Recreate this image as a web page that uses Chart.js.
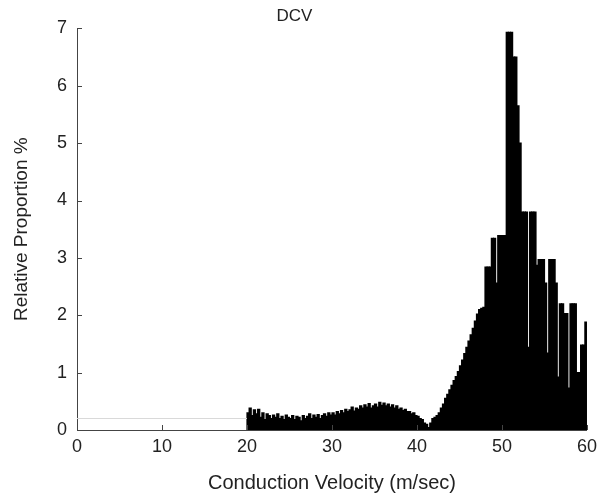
<!DOCTYPE html>
<html>
<head>
<meta charset="utf-8">
<script src="https://cdn.jsdelivr.net/npm/chart.js@4.4.0/dist/chart.umd.min.js"></script>
<style>
  html, body { margin: 0; padding: 0; background: #fff; }
  #wrap { width: 603px; height: 501px; }
</style>
</head>
<body>
<div id="wrap"><canvas id="chart" width="603" height="501"></canvas></div>
<script>
// --- histogram data (relative proportion %, 0.25 m/s bins from 20 m/s) ---
const binStart = 20;
const binWidth = 0.25;

// 20 - 42 m/s: low plateau
const lowPlateau = [
    0.30, 0.38, 0.25, 0.35,  0.28, 0.36, 0.22, 0.30,
    0.18, 0.28, 0.25, 0.20,  0.26, 0.22, 0.28, 0.20,
    0.24, 0.18, 0.26, 0.22,  0.20, 0.25, 0.18, 0.24,
    0.22, 0.16, 0.25, 0.20,  0.24, 0.28, 0.20, 0.26,
    0.22, 0.27, 0.20, 0.25,  0.28, 0.24, 0.30, 0.26,
    0.30, 0.26, 0.32, 0.28,  0.34, 0.30, 0.36, 0.32,
    0.35, 0.40, 0.33, 0.38,  0.36, 0.42, 0.38, 0.44,
    0.40, 0.46, 0.38, 0.42,  0.45, 0.40, 0.48, 0.43,
    0.47, 0.42, 0.45, 0.40,  0.44, 0.38, 0.42, 0.36,
    0.38, 0.34, 0.36, 0.32,  0.32, 0.28, 0.30, 0.25,
    0.24, 0.20, 0.18, 0.12,  0.10, 0.04, 0.12, 0.20
];

// 42 - 48 m/s: rising edge
const risingEdge = [
    0.22, 0.25, 0.30, 0.38,
    0.45, 0.55, 0.62, 0.70,  0.78, 0.86, 0.93, 1.02,
    1.12, 1.22, 1.33, 1.44,  1.55, 1.66, 1.77, 1.90,
    2.02, 2.10, 2.12, 2.14
];

// 48 - 60 m/s: main peak
const peakCluster = [
    2.84, 2.84, 2.84, 3.34,  3.34, 2.56, 3.39, 3.39,
    3.39, 3.39, 6.93, 6.93,  6.93, 6.50, 6.50, 5.65,
    5.00, 3.80, 3.80, 3.80,  1.44, 3.80, 3.80, 3.80,
    2.87, 2.97, 2.97, 2.97,  2.56, 1.34, 2.97, 2.97,
    2.97, 2.56, 0.92, 2.20,  2.20, 2.03, 2.03, 0.73,
    2.20, 2.20, 2.20, 1.00,  1.00, 1.48, 1.48, 1.88
];

// faint reference line left of the histogram
const floorSpan = [0, 20];
const floorLevel = 0.2;

const xTicks = [0, 10, 20, 30, 40, 50, 60];
const yTicks = [0, 1, 2, 3, 4, 5, 6, 7];

const proportions = [...lowPlateau, ...risingEdge, ...peakCluster];
const histData = proportions.map((v, i) => ({ x: binStart + binWidth * (i + 0.5), y: v }));
const floorData = floorSpan.map(x => ({ x, y: floorLevel }));

const axisColor = '#444';
const textColor = '#222';
const fontFamily = '"Liberation Sans", Arial, Helvetica, sans-serif';

// matlab style ticks pointing into the plot
const inwardTicks = {
    id: 'inwardTicks',
    afterDatasetsDraw(chart) {
        const { ctx, chartArea, scales: { x, y } } = chart;
        ctx.save();
        ctx.strokeStyle = axisColor;
        ctx.lineWidth = 1;
        ctx.beginPath();
        xTicks.forEach(v => {
            const px = Math.round(x.getPixelForValue(v)) + 0.5;
            ctx.moveTo(px, chartArea.bottom);
            ctx.lineTo(px, chartArea.bottom - 5);
        });
        yTicks.forEach(v => {
            const py = Math.round(y.getPixelForValue(v)) + 0.5;
            ctx.moveTo(chartArea.left, py);
            ctx.lineTo(chartArea.left + 5, py);
        });
        ctx.stroke();
        ctx.restore();
    }
};

new Chart(document.getElementById('chart'), {
    data: {
        datasets: [
            {
                type: 'line',
                data: floorData,
                borderColor: '#d9d9d9',
                borderWidth: 1,
                pointRadius: 0
            },
            {
                type: 'bar',
                data: histData,
                backgroundColor: '#000',
                borderWidth: 0,
                inflateAmount: 0.6,
                barPercentage: 1,
                categoryPercentage: 1
            }
        ]
    },
    options: {
        responsive: false,
        animation: false,
        layout: { padding: { left: 0, right: 14, top: 0, bottom: 0 } },
        plugins: {
            legend: { display: false },
            tooltip: { enabled: false },
            title: {
                display: true,
                text: 'DCV',
                color: textColor,
                font: { family: fontFamily, size: 17, weight: 'normal' },
                padding: { top: 6, bottom: 2 }
            }
        },
        scales: {
            x: {
                type: 'linear',
                min: 0,
                max: 60,
                offset: false,
                afterFit: scale => { scale.height = 71; },
                grid: { display: false, drawTicks: false, offset: false },
                border: { display: true, color: axisColor, width: 1 },
                ticks: {
                    stepSize: 10,
                    padding: 6,
                    color: textColor,
                    font: { family: fontFamily, size: 18 }
                },
                title: {
                    display: true,
                    text: 'Conduction Velocity (m/sec)',
                    color: textColor,
                    font: { family: fontFamily, size: 20 },
                    padding: { top: 0, bottom: 6 }
                }
            },
            y: {
                min: 0,
                max: 7,
                afterFit: scale => { scale.width = 77; },
                grid: { display: false, drawTicks: false },
                border: { display: true, color: axisColor, width: 1 },
                ticks: {
                    stepSize: 1,
                    padding: 10,
                    color: textColor,
                    font: { family: fontFamily, size: 18 }
                },
                title: {
                    display: true,
                    text: 'Relative Proportion %',
                    color: textColor,
                    font: { family: fontFamily, size: 19 },
                    padding: { top: 10, bottom: 0 }
                }
            }
        }
    },
    plugins: [inwardTicks]
});
</script>
</body>
</html>
